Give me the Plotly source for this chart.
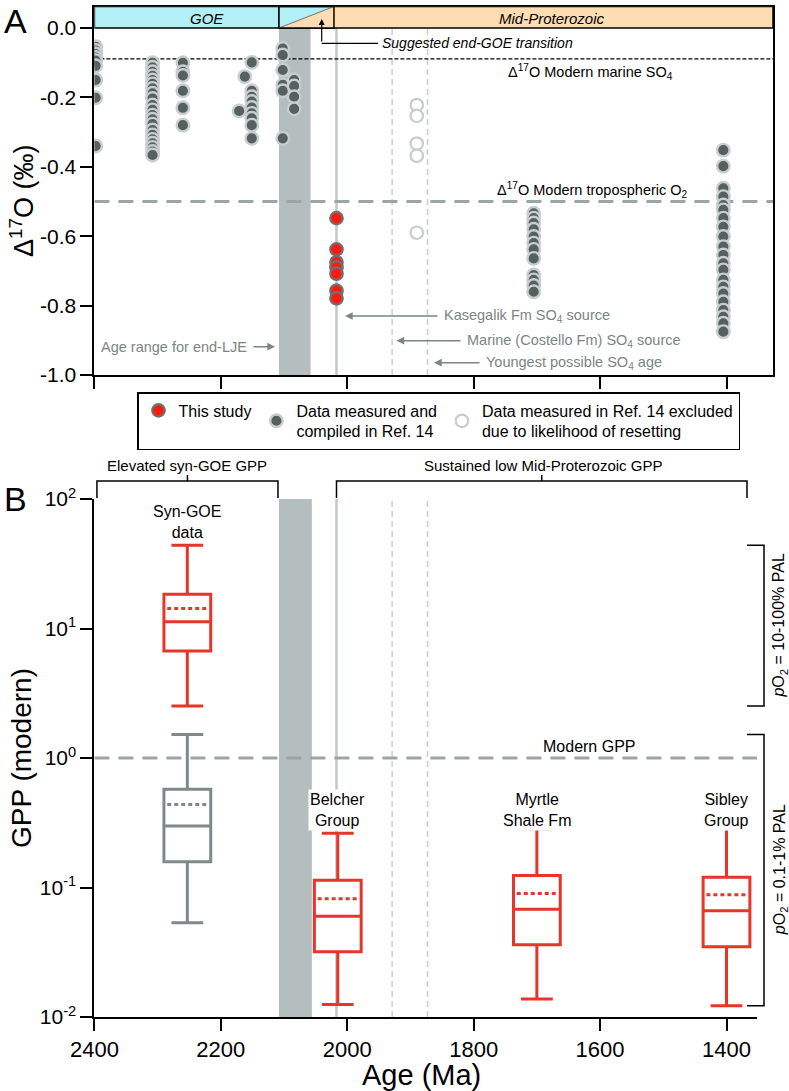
import plotly.graph_objects as go
import math

# ---------------- DATA ----------------
# Panel A: Δ17O (‰) of sulfate, by age (Ma)
ref14_ages = [2398, 2308, 2260, 2151, 2162, 2171, 2102, 2084, 1705, 1405]
ref14_d17o = [
    [-0.054, -0.065, -0.075, -0.085, -0.094, -0.109, -0.150, -0.201, -0.340],
    [-0.100, -0.113, -0.126, -0.138, -0.150, -0.161, -0.174, -0.188, -0.203, -0.222,
     -0.236, -0.251, -0.263, -0.277, -0.294, -0.308, -0.321, -0.332, -0.344, -0.356, -0.366],
    [-0.100, -0.126, -0.137, -0.181, -0.230, -0.280],
    [-0.099, -0.181, -0.198, -0.212, -0.229, -0.246, -0.260, -0.280, -0.318],
    [-0.140],
    [-0.239],
    [-0.059, -0.078, -0.121, -0.164, -0.181, -0.318],
    [-0.150, -0.167, -0.198, -0.233],
    [-0.534, -0.548, -0.562, -0.580, -0.601, -0.620, -0.638, -0.664, -0.712, -0.726, -0.742, -0.760],
    [-0.352, -0.398, -0.462, -0.486, -0.510, -0.524, -0.548, -0.573, -0.601, -0.630, -0.654,
     -0.678, -0.697, -0.726, -0.746, -0.765, -0.789, -0.813, -0.832, -0.851, -0.875],
]
excluded_age = 1890
excluded_d17o = [-0.222, -0.253, -0.333, -0.368, -0.590]
study_age = 2017
study_d17o = [-0.548, -0.638, -0.675, -0.690, -0.708, -0.757, -0.779]

marine_so4_d17o = -0.089
tropo_o2_d17o = -0.5
lje_range = [2108, 2058]
goe_end_transition = 2021
costello_age = 1929
youngest_age = 1873

# Panel B: GPP (relative to modern), box statistics
gpp_labels = ["", "Syn-GOE<br>data", "Belcher<br>Group", "Myrtle<br>Shale Fm", "Sibley<br>Group"]
gpp_ages = [2253, 2253, 2015, 1700, 1400]
gpp_upper = [1.52, 44.0, 0.262, 0.284, 0.285]
gpp_q3 = [0.573, 18.4, 0.114, 0.124, 0.120]
gpp_mean = [0.438, 14.3, 0.082, 0.090, 0.088]
gpp_median = [0.298, 11.3, 0.060, 0.068, 0.066]
gpp_q1 = [0.158, 6.7, 0.0319, 0.0361, 0.0349]
gpp_lower = [0.0535, 2.52, 0.0125, 0.0138, 0.0122]
gpp_colors = ["#7E8A8A", "#E8352A", "#E8352A", "#E8352A", "#E8352A"]

age_ticks = [2400, 2200, 2000, 1800, 1600, 1400]
d17o_ticks = [0.0, -0.2, -0.4, -0.6, -0.8, -1.0]
gpp_ticks = [0.01, 0.1, 1, 10, 100]
gpp_ticktext = ["10<sup>-2</sup>", "10<sup>-1</sup>", "10<sup>0</sup>", "10<sup>1</sup>", "10<sup>2</sup>"]

# ---------------- GEOMETRY ----------------
W, H = 789, 1091
X2400 = 94.4
PX_PER_MA = 0.6321
A_Y0, A_PX = 28.0, 347.0
B_YTOP, B_DEC = 499.0, 129.5

def px_to_age(p):
    return 2400 - (p - X2400) / PX_PER_MA

def age_to_px(a):
    return X2400 + (2400 - a) * PX_PER_MA

def py_to_d(p):
    return -(p - A_Y0) / A_PX

def gpp_to_py(g):
    return B_YTOP + (2 - math.log10(g)) * B_DEC

def px(p):
    return p / W

def py(p):
    return 1 - p / H

FONT = "Liberation Sans, Arial, Helvetica, sans-serif"
GRAY_TXT = "#7A8585"
BAND_GRAY = "#B5BEBE"
LINE_GRAY = "#C0C8C8"
DASH_GRAY = "#C9CECE"

fig = go.Figure()

# ---------------- PANEL A TRACES ----------------
xs, ys = [], []
for a, vals in zip(ref14_ages, ref14_d17o):
    for v in vals:
        xs.append(a)
        ys.append(v)

MS = 12.5
fig.add_trace(go.Scatter(
    x=xs, y=ys, mode="markers", name="Data measured and<br>compiled in Ref. 14",
    marker=dict(size=MS, color="#56605F", line=dict(color="#C8CECE", width=2.4)),
    xaxis="x", yaxis="y", legendrank=2, hoverinfo="skip"))
fig.add_trace(go.Scatter(
    x=[excluded_age] * len(excluded_d17o), y=excluded_d17o, mode="markers",
    name="Data measured in Ref. 14 excluded<br>due to likelihood of resetting",
    marker=dict(size=MS, color="white", line=dict(color="#C8CCCC", width=2.2)),
    xaxis="x", yaxis="y", legendrank=3, hoverinfo="skip"))
fig.add_trace(go.Scatter(
    x=[study_age] * len(study_d17o), y=study_d17o, mode="markers", name="This study",
    marker=dict(size=MS, color="#FF1A10", line=dict(color="#707070", width=2.2)),
    xaxis="x", yaxis="y", legendrank=1, hoverinfo="skip"))

# ---------------- PANEL B TRACES ----------------
BOX_W = 74
for i in range(len(gpp_ages)):
    c = gpp_colors[i]
    fig.add_trace(go.Box(
        x=[gpp_ages[i]], q1=[gpp_q1[i]], median=[gpp_median[i]], q3=[gpp_q3[i]],
        lowerfence=[gpp_lower[i]], upperfence=[gpp_upper[i]],
        width=BOX_W, whiskerwidth=0.68, boxpoints=False,
        line=dict(color=c, width=3), fillcolor="white",
        xaxis="x2", yaxis="y2", showlegend=False, hoverinfo="skip"))
    half = BOX_W / 2 * 0.86
    fig.add_trace(go.Scatter(
        x=[gpp_ages[i] + half, gpp_ages[i] - half], y=[gpp_mean[i], gpp_mean[i]],
        mode="lines", line=dict(color=c, width=3, dash="4px,3px"),
        xaxis="x2", yaxis="y2", showlegend=False, hoverinfo="skip"))

# ---------------- SHAPES ----------------
A_TOP = py_to_d(6.5)
A_RIGHT = px_to_age(773)
B_RIGHT = px_to_age(757)
shapes = []

# Panel A background elements
shapes.append(dict(type="rect", xref="x", yref="y", x0=lje_range[0], x1=lje_range[1],
                   y0=-1.0, y1=0, fillcolor=BAND_GRAY, line_width=0, layer="below"))
shapes.append(dict(type="line", xref="x", yref="y", x0=study_age, x1=study_age, y0=-1.0, y1=0,
                   line=dict(color=LINE_GRAY, width=2.5), layer="below"))
for a in [costello_age, youngest_age]:
    shapes.append(dict(type="line", xref="x", yref="y", x0=a, x1=a, y0=-1.0, y1=0,
                       line=dict(color=DASH_GRAY, width=1.5, dash="6px,4px"), layer="below"))
shapes.append(dict(type="line", xref="x", yref="y", x0=2400, x1=A_RIGHT,
                   y0=marine_so4_d17o, y1=marine_so4_d17o,
                   line=dict(color="black", width=1.1, dash="4px,2px"), layer="below"))
shapes.append(dict(type="line", xref="x", yref="y", x0=2400, x1=A_RIGHT,
                   y0=tropo_o2_d17o, y1=tropo_o2_d17o,
                   line=dict(color="#9CA5A5", width=3, dash="15px,9px"), layer="below"))

# Top band of panel A
CYAN = "#B2F0F5"
PEACH = "#FDDDB1"
shapes.append(dict(type="rect", xref="x", yref="y", x0=2400, x1=lje_range[0], y0=0, y1=A_TOP,
                   fillcolor=CYAN, line=dict(color="black", width=1.5)))
shapes.append(dict(type="rect", xref="x", yref="y", x0=lje_range[0], x1=goe_end_transition,
                   y0=0, y1=A_TOP, fillcolor=CYAN, line=dict(color="black", width=1.5)))
shapes.append(dict(type="path", xref="x", yref="y",
                   path=f"M {lje_range[0]},0 L {goe_end_transition},0 L {goe_end_transition},{A_TOP} Z",
                   fillcolor=PEACH, line=dict(width=0)))
shapes.append(dict(type="line", xref="x", yref="y", x0=lje_range[0], y0=0,
                   x1=goe_end_transition, y1=A_TOP, line=dict(color="#7D8585", width=1.2)))
shapes.append(dict(type="rect", xref="x", yref="y", x0=goe_end_transition, x1=A_RIGHT,
                   y0=0, y1=A_TOP, fillcolor=PEACH, line=dict(color="black", width=1.5)))
shapes.append(dict(type="line", xref="x", yref="y", x0=lje_range[0], x1=goe_end_transition,
                   y0=0, y1=0, line=dict(color="black", width=1.5)))
shapes.append(dict(type="line", xref="x", yref="y", x0=lje_range[0], x1=goe_end_transition,
                   y0=A_TOP, y1=A_TOP, line=dict(color="black", width=1.5)))

# Elbow of "Suggested end-GOE transition" arrow
shapes.append(dict(type="line", xref="paper", yref="paper", x0=px(321.7), x1=px(378),
                   y0=py(43.3), y1=py(43.3), line=dict(color="black", width=1.2)))

# Panel B background elements
shapes.append(dict(type="rect", xref="x2", yref="y2", x0=lje_range[0], x1=lje_range[1] - 2,
                   y0=0.01, y1=100, fillcolor=BAND_GRAY, line_width=0, layer="below"))
shapes.append(dict(type="line", xref="x2", yref="y2", x0=study_age, x1=study_age, y0=0.01, y1=100,
                   line=dict(color=LINE_GRAY, width=2.5), layer="below"))
for a in [costello_age, youngest_age]:
    shapes.append(dict(type="line", xref="x2", yref="y2", x0=a, x1=a, y0=0.01, y1=100,
                       line=dict(color=DASH_GRAY, width=1.5, dash="6px,4px"), layer="below"))
shapes.append(dict(type="line", xref="x2", yref="y2", x0=2400, x1=B_RIGHT, y0=1, y1=1,
                   line=dict(color="#9CA5A5", width=3, dash="15px,9px"), layer="below"))

# Brackets above panel B
BR_TOP, BR_BOT = 481, 498
def top_bracket(x0p, x1p):
    mid = (x0p + x1p) / 2
    shapes.append(dict(type="path", xref="paper", yref="paper",
                       path=f"M {px(x0p)},{py(BR_BOT)} L {px(x0p)},{py(BR_TOP)} L {px(x1p)},{py(BR_TOP)} L {px(x1p)},{py(BR_BOT)}",
                       line=dict(color="black", width=1.5)))
    shapes.append(dict(type="line", xref="paper", yref="paper", x0=px(mid), x1=px(mid),
                       y0=py(BR_TOP), y1=py(BR_TOP - 6), line=dict(color="black", width=1.5)))

top_bracket(age_to_px(2396), age_to_px(lje_range[0]) - 1)
top_bracket(age_to_px(study_age), 747)

# Right-hand pO2 brackets
def side_bracket(g_hi, g_lo):
    y0p, y1p = gpp_to_py(g_hi), gpp_to_py(g_lo)
    shapes.append(dict(type="path", xref="paper", yref="paper",
                       path=f"M {px(747)},{py(y0p)} L {px(764)},{py(y0p)} L {px(764)},{py(y1p)} L {px(747)},{py(y1p)}",
                       line=dict(color="black", width=1.5)))
    return (y0p + y1p) / 2

mid_hi = side_bracket(gpp_upper[1], gpp_lower[1])
mid_lo = side_bracket(gpp_upper[0], min(gpp_lower[2:]))

# ---------------- ANNOTATIONS ----------------
ann = []
def text(x, y, s, size=14.5, color="black", xanchor="center", yanchor="middle", angle=0,
         xref="paper", yref="paper", bg=None, italic=False):
    if italic:
        s = f"<i>{s}</i>"
    d = dict(x=x, y=y, xref=xref, yref=yref, text=s, showarrow=False,
             font=dict(size=size, color=color, family=FONT),
             xanchor=xanchor, yanchor=yanchor, textangle=angle)
    if bg:
        d["bgcolor"] = bg
        d["borderpad"] = 1
    ann.append(d)

def arrow(x_tip, y_tip, x_from, color=GRAY_TXT, width=1.4):
    ann.append(dict(x=x_tip, y=y_tip, ax=x_from, ay=y_tip, xref="x", yref="y",
                    axref="x", ayref="y", text="", showarrow=True, arrowhead=2,
                    arrowsize=1.1, arrowwidth=width, arrowcolor=color, standoff=0))

# Panel letters
text(px(16), py(21), "A", size=34)
text(px(16), py(499), "B", size=34)

# Axis titles
text(px(22), py(201), "Δ<sup>17</sup>O (‰)", size=27, angle=-90)
text(px(21), py(758), "GPP (modern)", size=28, angle=-90)
text(px(421), py(1075), "Age (Ma)", size=29)

# Band labels
text(px(207), py(18), "GOE", size=15, italic=True)
text(px(552), py(18), "Mid-Proterozoic", size=15, italic=True)

# Suggested transition
ann.append(dict(x=px(321.7), y=py(19), xref="paper", yref="paper", ax=0, ay=24,
                text="", showarrow=True, arrowhead=2, arrowsize=1.0, arrowwidth=1.2,
                arrowcolor="black", standoff=0))
text(px(380), py(43.3), "Suggested end-GOE transition", size=14, italic=True, xanchor="left")

# Reference lines labels
text(px(590), py(72), "Δ<sup>17</sup>O Modern marine SO<sub>4</sub>", size=14.5)
text(px(592), py(190), "Δ<sup>17</sup>O Modern tropospheric O<sub>2</sub>", size=14.5)

# Age markers
y_k, y_m, y_y, y_l = py_to_d(316), py_to_d(340.7), py_to_d(362.7), py_to_d(346.7)
arrow(px_to_age(345), y_k, px_to_age(439))
text(px(442), py(316), "Kasegalik Fm SO<sub>4</sub> source", color=GRAY_TXT, xanchor="left")
arrow(px_to_age(396.5), y_m, px_to_age(462))
text(px(465), py(340.7), "Marine (Costello Fm) SO<sub>4</sub> source", color=GRAY_TXT, xanchor="left")
arrow(px_to_age(434), y_y, px_to_age(481))
text(px(484), py(362.7), "Youngest possible SO<sub>4</sub> age", color=GRAY_TXT, xanchor="left")
arrow(px_to_age(275), y_l, px_to_age(252))
text(px(249), py(346.7), "Age range for end-LJE", color=GRAY_TXT, xanchor="right")

# Panel B labels
text(px(187), py(465), "Elevated syn-GOE GPP", size=15)
text(px(543), py(465), "Sustained low Mid-Proterozoic GPP", size=15)
text(px(589), py(746.5), "Modern GPP", size=16)
text(px(780), py(mid_hi), "<i>p</i>O<sub>2</sub> = 10-100% PAL", size=16, angle=-90)
text(px(780), py(mid_lo), "<i>p</i>O<sub>2</sub> = 0.1-1% PAL", size=16, angle=-90)
text(px(age_to_px(gpp_ages[1])), py(522), gpp_labels[1], size=16)
for i in range(2, len(gpp_ages)):
    text(px(age_to_px(gpp_ages[i])), py(810), gpp_labels[i], size=16, bg="white")

# ---------------- LAYOUT ----------------
axis_common = dict(showline=True, linecolor="black", linewidth=2, ticks="outside",
                   ticklen=12, tickwidth=2, tickcolor="black", showgrid=False, zeroline=False,
                   automargin=False,
                   tickfont=dict(size=21, family=FONT, color="black"))

fig.update_layout(
    width=W, height=H, margin=dict(l=0, r=0, t=0, b=0, autoexpand=False),
    paper_bgcolor="white", plot_bgcolor="rgba(0,0,0,0)",
    font=dict(family=FONT, color="black"),
    boxmode="overlay",
    xaxis=dict(domain=[px(X2400), px(773)], range=[2400, A_RIGHT], anchor="y",
               tickvals=age_ticks, showticklabels=False, mirror=True, **axis_common),
    yaxis=dict(domain=[py(375), py(6.5)], range=[-1.0, A_TOP], anchor="x",
               tickvals=d17o_ticks, ticktext=[f"{v:.1f}" for v in d17o_ticks], mirror=True,
               **axis_common),
    xaxis2=dict(domain=[px(X2400), px(757)], range=[2400, B_RIGHT], anchor="y2",
                tickvals=age_ticks, **{**axis_common, "tickfont": dict(size=22, family=FONT, color="black")}),
    yaxis2=dict(domain=[py(1017), py(B_YTOP)], type="log", range=[-2, 2], anchor="x2",
                tickvals=gpp_ticks, ticktext=gpp_ticktext, **axis_common),
    shapes=shapes,
    annotations=ann,
    showlegend=True,
    legend=dict(orientation="h", x=px(438.5), xanchor="center", y=py(392), yanchor="top",
                bordercolor="black", borderwidth=1.5, bgcolor="white",
                font=dict(size=16, family=FONT, color="black"), valign="middle",
                traceorder="normal"),
)

fig.write_html("out.html", config={"displayModeBar": False},
               post_script="document.body.style.margin='0';")
